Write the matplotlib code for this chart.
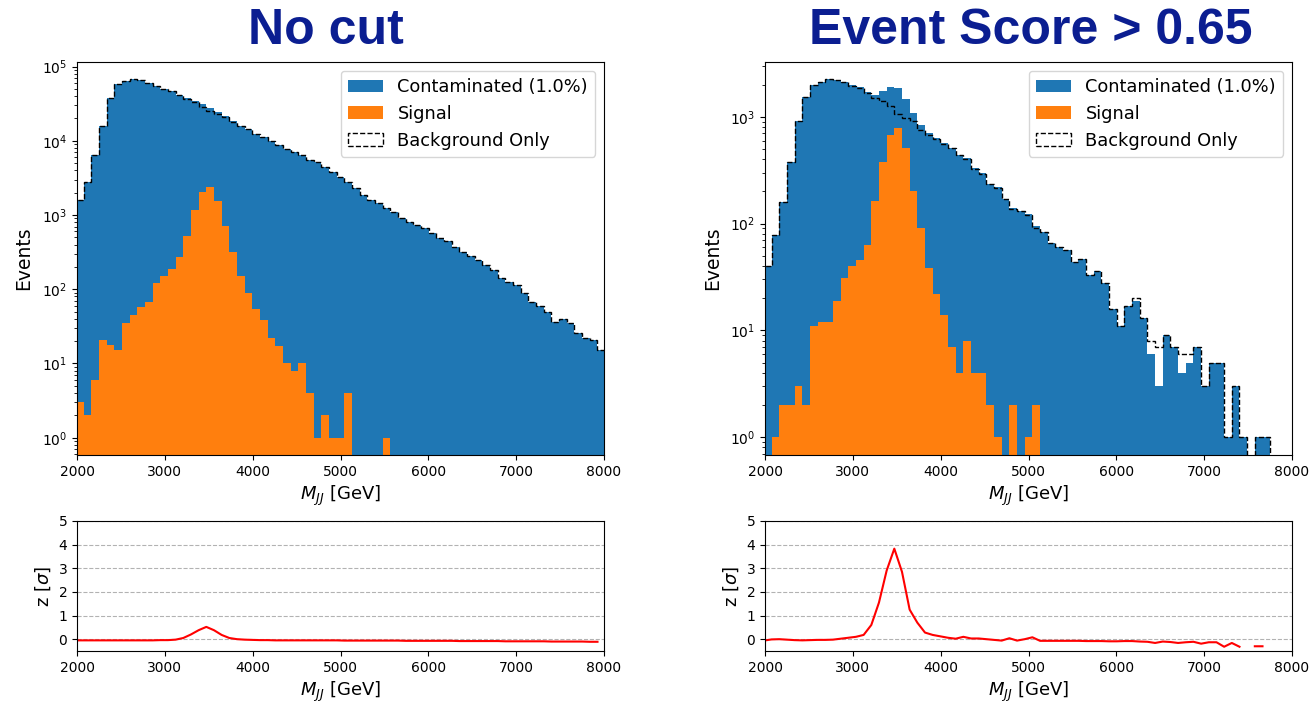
import numpy as np
import matplotlib.pyplot as plt

# DADOS

# bordas dos bins visiveis (M_JJ em GeV)
edges = np.linspace(1900, 8100, 72)[1:71]

# sem corte
left_bkg = [1577, 2798, 6344, 15779, 37882, 57785, 63365, 66955, 65942, 60432,
            53880, 50350, 46310, 41725, 36775, 32930, 28860, 25100, 23050, 21090,
            17980, 15750, 14210, 12446, 11361, 9978, 8783, 7790, 7092, 6340,
            5496, 5099, 4468, 3819, 3289, 2746, 2290, 1860, 1590, 1440,
            1229, 1110, 910, 810, 730, 660, 565, 495, 440, 375,
            320, 280, 245, 215, 180, 143, 126, 114, 88, 68,
            60, 50, 36, 40, 35, 26, 22, 21, 15]
left_sig = [3, 2, 6, 21, 18, 15, 35, 45, 58, 68,
            120, 150, 190, 275, 525, 1170, 2040, 2400, 1550, 710,
            320, 150, 90, 54, 39, 22, 17, 10, 8, 10,
            4, 1, 2, 1, 1, 4, 0, 0, 0, 0,
            1, 0, 0, 0, 0, 0, 0, 0, 0, 0,
            0, 0, 0, 0, 0, 0, 0, 0, 0, 0,
            0, 0, 0, 0, 0, 0, 0, 0, 0]

# event score > 0.65
right_cont = [40, 78, 160, 380, 920, 1520, 1990, 2140, 2250, 2230,
              2130, 1990, 1900, 1700, 1610, 1730, 1920, 1850, 1480, 1080,
              830, 705, 630, 565, 515, 440, 410, 330, 295, 235,
              218, 170, 139, 132, 122, 94, 84, 66, 60, 57,
              44, 47, 33, 36, 28, 16, 11, 17, 19, 13,
              6, 3, 9, 7, 4, 5, 7, 3, 5, 5,
              1, 3, 1, 0, 1, 1, 0, 0, 0]
right_bkg = [40, 78, 160, 378, 918, 1518, 1980, 2130, 2240, 2210,
             2100, 1950, 1850, 1680, 1500, 1410, 1250, 1060, 985, 910,
             760, 680, 620, 560, 510, 438, 405, 328, 292, 234,
             217, 170, 138, 132, 121, 90, 84, 66, 60, 57,
             44, 47, 33, 36, 28, 16, 11, 17, 20, 13,
             8, 7, 9, 7, 6, 6, 7, 3, 5, 5,
             1, 3, 1, 0, 1, 1, 0, 0, 0]
right_sig = [0, 1, 2, 2, 3, 2, 11, 12, 12, 19,
             31, 40, 46, 63, 164, 377, 670, 780, 515, 203,
             90, 38, 22, 14, 7, 4, 8, 4, 4, 2,
             1, 0, 2, 0, 1, 2, 0, 0, 0, 0,
             0, 0, 0, 0, 0, 0, 0, 0, 0, 0,
             0, 0, 0, 0, 0, 0, 0, 0, 0, 0,
             0, 0, 0, 0, 0, 0, 0, 0, 0]

# significancia por bin
left_z = [-0.05, -0.05, -0.05, -0.05, -0.05, -0.05, -0.05, -0.05, -0.05, -0.05,
          -0.05, -0.04, -0.04, -0.02, 0.05, 0.2, 0.38, 0.52, 0.38, 0.18,
          0.05, 0.0, -0.02, -0.03, -0.04, -0.04, -0.05, -0.05, -0.05, -0.05,
          -0.05, -0.05, -0.05, -0.05, -0.05, -0.06, -0.06, -0.06, -0.06, -0.06,
          -0.06, -0.06, -0.06, -0.07, -0.07, -0.07, -0.07, -0.07, -0.07, -0.07,
          -0.08, -0.08, -0.08, -0.08, -0.08, -0.08, -0.09, -0.09, -0.09, -0.09,
          -0.09, -0.09, -0.10, -0.10, -0.10, -0.10, -0.10, -0.11, -0.11]
right_z = [-0.06, -0.01, 0.0, -0.02, -0.04, -0.05, -0.04, -0.03, -0.03, -0.02,
           0.02, 0.06, 0.1, 0.18, 0.6, 1.55, 2.9, 3.83, 2.85, 1.25,
           0.7, 0.28, 0.18, 0.12, 0.06, 0.02, 0.1, 0.03, 0.03, 0.0,
           -0.03, -0.06, 0.04, -0.06, 0.0, 0.08, -0.07, -0.07, -0.07, -0.07,
           -0.07, -0.07, -0.08, -0.08, -0.08, -0.09, -0.09, -0.08, -0.08, -0.1,
           -0.11, -0.16, -0.1, -0.12, -0.16, -0.13, -0.11, -0.19, -0.13, -0.13,
           -0.32, -0.16, -0.32, np.nan, -0.3, -0.3, np.nan, np.nan, np.nan]

TITLE_COLOR = '#0b1e91'

# FUNCOES


def plot_main(ax, cont, sig, bkg, ylim):
    centers = (edges[:-1] + edges[1:]) / 2
    ax.hist(centers, bins=edges, weights=cont, color='tab:blue', log=True,
            label='Contaminated (1.0%)')
    ax.hist(centers, bins=edges, weights=sig, color='tab:orange', log=True,
            label='Signal')
    ax.hist(centers, bins=edges, weights=bkg, histtype='step', color='black',
            linestyle='--', linewidth=1.0, log=True, label='Background Only')
    ax.set_xlim(2000, 8000)
    ax.set_ylim(*ylim)
    ax.set_xticks(range(2000, 8001, 1000))
    ax.set_xlabel('$M_{JJ}$ [GeV]', fontsize=13)
    ax.set_ylabel('Events', fontsize=13.5, labelpad=6)
    ax.legend(loc='upper right', fontsize=12.8)


def plot_z(ax, z):
    ax.plot(edges[:-1], z, color='red', linewidth=1.5)
    ax.set_xlim(2000, 8000)
    ax.set_ylim(-0.5, 5)
    ax.set_xticks(range(2000, 8001, 1000))
    ax.set_yticks(range(0, 6))
    ax.yaxis.grid(True, linestyle='--', color='gray', alpha=0.6)
    ax.set_axisbelow(True)
    ax.set_xlabel('$M_{JJ}$ [GeV]', fontsize=13)
    ax.set_ylabel('z [$\\sigma$]', fontsize=13)


# FIGURA

fig = plt.figure(figsize=(13.12, 7.05), dpi=100)

ax_l = fig.add_axes([0.0587, 0.3546, 0.4017, 0.5574])
ax_r = fig.add_axes([0.5831, 0.3546, 0.4017, 0.5574])
ax_lz = fig.add_axes([0.0587, 0.0766, 0.4017, 0.1844])
ax_rz = fig.add_axes([0.5831, 0.0766, 0.4017, 0.1844])

left_cont = np.array(left_bkg) + np.array(left_sig)
plot_main(ax_l, left_cont, left_sig, left_bkg, (0.585, 1.15e5))
plot_main(ax_r, right_cont, right_sig, right_bkg, (0.68, 3260))
plot_z(ax_lz, left_z)
plot_z(ax_rz, right_z)

fig.text(0.2485, 0.956, 'No cut', ha='center', va='center', fontsize=36,
         fontweight='bold', color=TITLE_COLOR, family='Liberation Sans')
fig.text(0.786, 0.956, 'Event Score > 0.65', ha='center', va='center',
         fontsize=36, fontweight='bold', color=TITLE_COLOR,
         family='Liberation Sans')

plt.savefig('out.png', dpi=100)
